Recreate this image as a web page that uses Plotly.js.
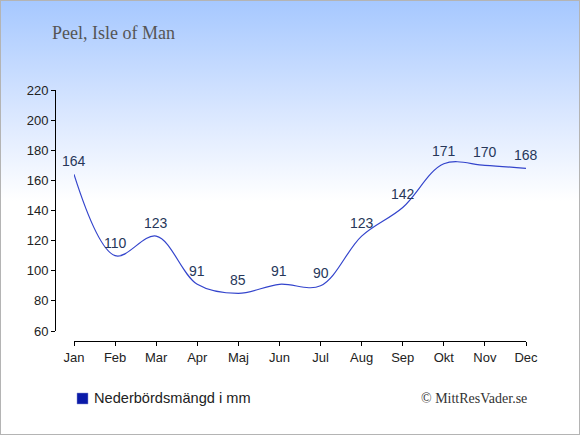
<!DOCTYPE html>
<html><head><meta charset="utf-8">
<script src="https://cdn.plot.ly/plotly-3.0.1.min.js"></script>
<style>
html,body{margin:0;padding:0;}
#wrap{position:relative;width:578px;height:433px;border:1px solid #b4b4b4;
background:linear-gradient(to bottom,#a6c8ff 0px,#dde9ff 120px,#ffffff 200px,#ffffff 433px);}
#chart{position:absolute;left:-1px;top:-1px;width:580px;height:435px;}
</style></head>
<body><div id="wrap"><div id="chart"></div></div>
<script>
var months = ["Jan","Feb","Mar","Apr","Maj","Jun","Jul","Aug","Sep","Okt","Nov","Dec"];
var precipitation = [164,110,123,91,85,91,90,123,142,171,170,168];
var yTicks = [60,80,100,120,140,160,180,200,220];
var titleText = "Peel, Isle of Man";
var legendText = "Nederbördsmängd i mm";
var creditText = "© MittResVader.se";

var W = 580, H = 435;
var mL = 55, mR = 54, mT = 90, mB = 94;
var plotW = W - mL - mR, plotH = H - mT - mB;

var trace = {
  x: months, y: precipitation, type: "scatter", mode: "lines",
  line: {shape: "spline", smoothing: 1, color: "#3344cc", width: 1.2},
  hoverinfo: "none", cliponaxis: false
};

var labelAnnotations = months.map(function (m, i) {
  return {x: m, y: precipitation[i], xref: "x", yref: "y", text: String(precipitation[i]),
    showarrow: false, xanchor: "center", yanchor: "middle", yshift: 13,
    font: {family: "Liberation Sans, Arial, sans-serif", size: 14, color: "#27375a"}};
});

var layout = {
  width: W, height: H,
  paper_bgcolor: "rgba(0,0,0,0)", plot_bgcolor: "rgba(0,0,0,0)",
  margin: {l: mL, r: mR, t: mT, b: mB, pad: 0},
  showlegend: false,
  font: {family: "Liberation Sans, Arial, sans-serif", size: 13, color: "#222"},
  xaxis: {
    type: "category", range: [0, 11],
    domain: [19 / plotW, 1],
    anchor: "free", position: 0,
    showline: true, linecolor: "#000", linewidth: 1,
    ticks: "outside", ticklen: 4, tickcolor: "#000",
    showgrid: false, zeroline: false,
    tickfont: {size: 13, color: "#222"}
  },
  yaxis: {
    range: [60, 220], tickvals: yTicks,
    domain: [10 / plotH, 1],
    anchor: "free", position: 0,
    showline: true, linecolor: "#000", linewidth: 1,
    ticks: "outside", ticklen: 4, tickcolor: "#000",
    showgrid: false, zeroline: false,
    tickfont: {size: 13, color: "#222"}
  },
  annotations: labelAnnotations.concat([
    {text: titleText, xref: "paper", yref: "paper", x: (50 - mL) / plotW, y: (H - mB - 33) / plotH,
     xanchor: "left", yanchor: "middle", showarrow: false,
     font: {family: "Liberation Serif, Times New Roman, serif", size: 18, color: "#555"}},
    {text: legendText, xref: "paper", yref: "paper", x: (92 - mL) / plotW, y: (H - mB - 398) / plotH,
     xanchor: "left", yanchor: "middle", showarrow: false,
     font: {family: "Liberation Sans, Arial, sans-serif", size: 14.6, color: "#222"}},
    {text: creditText, xref: "paper", yref: "paper", x: (529 - mL) / plotW, y: (H - mB - 398) / plotH,
     xanchor: "right", yanchor: "middle", showarrow: false,
     font: {family: "Liberation Serif, Times New Roman, serif", size: 14, color: "#333"}}
  ]),
  shapes: [
    {type: "rect", xref: "paper", yref: "paper",
     x0: (77 - mL) / plotW, x1: (88 - mL) / plotW,
     y0: (H - mB - 404) / plotH, y1: (H - mB - 393) / plotH,
     fillcolor: "#0a1aa8", line: {color: "#8890d0", width: 0.5}}
  ]
};

Plotly.newPlot("chart", [trace], layout, {staticPlot: true, displayModeBar: false});
</script></body></html>
